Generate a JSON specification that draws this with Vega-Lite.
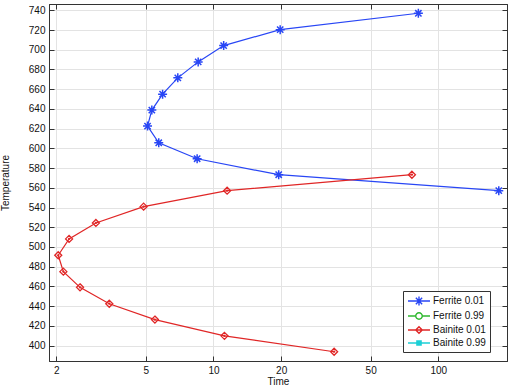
{
  "$schema": "https://vega.github.io/schema/vega-lite/v6.json",
  "width": 458,
  "height": 357,
  "autosize": {"type": "none"},
  "padding": {"left": 49, "top": 4, "right": 9, "bottom": 30},
  "background": "white",
  "config": {
    "font": "Liberation Sans",
    "view": {"stroke": "#333", "strokeWidth": 1},
    "axis": {
      "labelFont": "Liberation Sans",
      "labelFontSize": 10,
      "labelColor": "#111",
      "titleFont": "Liberation Sans",
      "titleFontSize": 10,
      "titleFontWeight": "normal",
      "titleColor": "#111",
      "domainColor": "#333",
      "tickColor": "#333",
      "gridColor": "#e3e3e3",
      "tickSize": -5
    }
  },
  "data": {
    "values": [
      {"series": "Ferrite 0.01", "idx": 1, "time": 81.5, "temp": 737.0},
      {"series": "Ferrite 0.01", "idx": 2, "time": 19.8, "temp": 720.4},
      {"series": "Ferrite 0.01", "idx": 3, "time": 11.1, "temp": 704.2},
      {"series": "Ferrite 0.01", "idx": 4, "time": 8.55, "temp": 687.7},
      {"series": "Ferrite 0.01", "idx": 5, "time": 6.94, "temp": 671.5},
      {"series": "Ferrite 0.01", "idx": 6, "time": 5.94, "temp": 655.0},
      {"series": "Ferrite 0.01", "idx": 7, "time": 5.32, "temp": 638.8},
      {"series": "Ferrite 0.01", "idx": 8, "time": 5.09, "temp": 622.6},
      {"series": "Ferrite 0.01", "idx": 9, "time": 5.71, "temp": 605.7},
      {"series": "Ferrite 0.01", "idx": 10, "time": 8.46, "temp": 589.5},
      {"series": "Ferrite 0.01", "idx": 11, "time": 19.5, "temp": 573.3},
      {"series": "Ferrite 0.01", "idx": 12, "time": 185.7, "temp": 557.1},
      {"series": "Bainite 0.01", "idx": 1, "time": 76.3, "temp": 573.3},
      {"series": "Bainite 0.01", "idx": 2, "time": 11.5, "temp": 557.1},
      {"series": "Bainite 0.01", "idx": 3, "time": 4.89, "temp": 540.9},
      {"series": "Bainite 0.01", "idx": 4, "time": 3.0, "temp": 524.4},
      {"series": "Bainite 0.01", "idx": 5, "time": 2.28, "temp": 508.2},
      {"series": "Bainite 0.01", "idx": 6, "time": 2.04, "temp": 491.6},
      {"series": "Bainite 0.01", "idx": 7, "time": 2.15, "temp": 475.0},
      {"series": "Bainite 0.01", "idx": 8, "time": 2.55, "temp": 459.1},
      {"series": "Bainite 0.01", "idx": 9, "time": 3.44, "temp": 442.5},
      {"series": "Bainite 0.01", "idx": 10, "time": 5.49, "temp": 426.4},
      {"series": "Bainite 0.01", "idx": 11, "time": 11.19, "temp": 409.9},
      {"series": "Bainite 0.01", "idx": 12, "time": 34.4, "temp": 393.8}
    ]
  },
  "layer": [
    {
      "mark": {"type": "point", "filled": false, "strokeWidth": 1.3, "size": 100, "opacity": 0},
      "encoding": {
        "x": {
          "field": "time", "type": "quantitative",
          "scale": {"type": "log", "domain": [1.856, 202], "nice": false},
          "axis": {"orient": "top", "values": [2, 5, 10, 20, 50, 100], "labels": false, "grid": false, "title": null}
        },
        "y": {
          "field": "temp", "type": "quantitative",
          "scale": {"domain": [384.4, 746.4], "nice": false, "zero": false},
          "axis": {"orient": "right", "values": [400, 420, 440, 460, 480, 500, 520, 540, 560, 580, 600, 620, 640, 660, 680, 700, 720, 740], "labels": false, "grid": false, "title": null}
        },
        "color": {
          "field": "series", "type": "nominal",
          "scale": {"domain": ["Ferrite 0.01", "Ferrite 0.99", "Bainite 0.01", "Bainite 0.99"], "range": ["#2846f5", "#2fb82f", "#e02626", "#1ccfd6"]},
          "legend": {
            "title": null,
            "orient": "none",
            "legendX": 354,
            "legendY": 287,
            "padding": 4,
            "fillColor": "white",
            "strokeColor": "#333",
            "labelFont": "Liberation Sans",
            "labelFontSize": 10,
            "labelColor": "#111",
            "rowPadding": 0,
            "symbolSize": 100,
            "symbolOpacity": 1,
            "symbolStrokeWidth": 1.4,
            "symbolOffset": 6,
            "labelOffset": 8
          }
        },
        "shape": {
          "field": "series", "type": "nominal",
          "scale": {"domain": ["Ferrite 0.01", "Ferrite 0.99", "Bainite 0.01", "Bainite 0.99"], "range": [
            "M-2.2,0H2.2M0,-0.9V0.9M-0.9,0H0.9M-0.63,-0.63L0.63,0.63M-0.63,0.63L0.63,-0.63",
            "M-2.2,0H-0.65M0.65,0H2.2M-0.65,0A0.65,0.65 0 1,0 0.65,0A0.65,0.65 0 1,0 -0.65,0",
            "M-2.2,0H2.2M0,-0.65L0.65,0L0,0.65L-0.65,0ZM-0.22,0H0.22",
            "M-2.2,0H2.2M-0.42,-0.42H0.42V0.42H-0.42ZM-0.42,-0.14H0.42M-0.42,0.14H0.42"
          ]},
          "legend": null
        }
      }
    },
    {
      "mark": {"type": "line", "strokeWidth": 1.2},
      "encoding": {
        "x": {
          "field": "time", "type": "quantitative",
          "axis": {"orient": "bottom", "values": [2, 5, 10, 20, 50, 100], "format": "d", "grid": true, "title": "Time", "labelPadding": 9, "titlePadding": 1}
        },
        "y": {
          "field": "temp", "type": "quantitative",
          "axis": {"orient": "left", "values": [400, 420, 440, 460, 480, 500, 520, 540, 560, 580, 600, 620, 640, 660, 680, 700, 720, 740], "grid": true, "title": "Temperature", "labelPadding": 9, "titlePadding": 18}
        },
        "color": {"field": "series", "type": "nominal", "legend": null},
        "order": {"field": "idx", "type": "quantitative"}
      }
    },
    {
      "transform": [{"filter": "datum.series === 'Ferrite 0.01'"}],
      "mark": {"type": "point", "filled": false, "strokeWidth": 1.5, "size": 81, "opacity": 1, "shape": "M0,-1V1M-1,0H1M-0.7,-0.7L0.7,0.7M-0.7,0.7L0.7,-0.7"},
      "encoding": {
        "x": {"field": "time", "type": "quantitative", "axis": null},
        "y": {"field": "temp", "type": "quantitative", "axis": null},
        "color": {"field": "series", "type": "nominal", "legend": null}
      }
    },
    {
      "transform": [{"filter": "datum.series === 'Bainite 0.01'"}],
      "mark": {"type": "point", "filled": false, "strokeWidth": 1.3, "size": 81, "opacity": 1, "shape": "M0,-0.78L0.78,0L0,0.78L-0.78,0ZM-0.25,0H0.25M0,-0.25V0.25"},
      "encoding": {
        "x": {"field": "time", "type": "quantitative", "axis": null},
        "y": {"field": "temp", "type": "quantitative", "axis": null},
        "color": {"field": "series", "type": "nominal", "legend": null}
      }
    }
  ],
  "resolve": {"axis": {"x": "independent", "y": "independent"}}
}
